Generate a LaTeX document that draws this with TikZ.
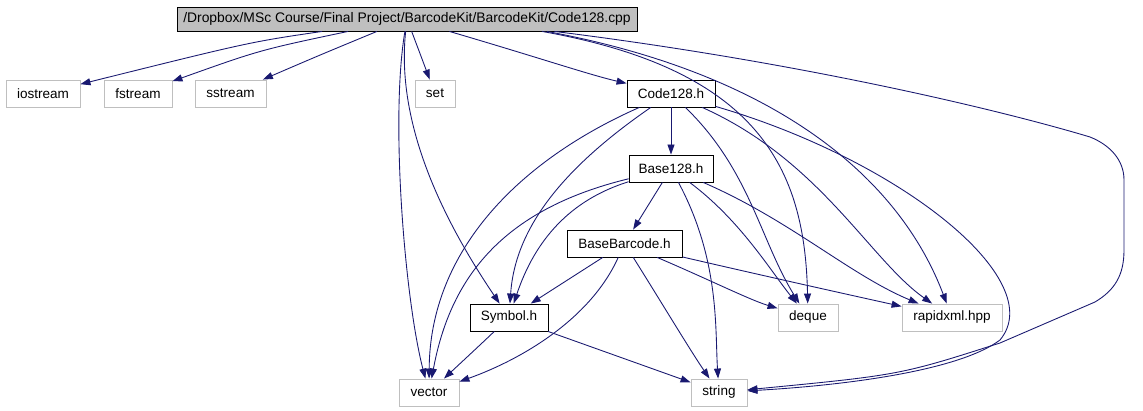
\documentclass[tikz,border=0pt]{standalone}
\usepackage{fontspec}
\setmainfont{Liberation Sans}
\usetikzlibrary{arrows.meta}
\definecolor{edgeblue}{HTML}{191970}
\definecolor{rootgray}{HTML}{BFBFBF}
\begin{document}
\begin{tikzpicture}[
    x=0.02cm, y=-0.02cm,
    every node/.style={font=\fontsize{7.7}{9}\selectfont, inner sep=0pt, minimum height=0.54cm},
    sysfile/.style={rectangle, draw=rootgray, line width=0.5pt},
    hdr/.style={rectangle, draw=black, line width=0.5pt},
    srcfile/.style={rectangle, draw=black, fill=rootgray, line width=0.5pt, minimum height=0.48cm, font=\fontsize{7.9}{9}\selectfont},
    edge/.style={-{Triangle[length=0.2cm,width=0.14cm]}, draw=edgeblue, line width=0.5pt}
]
\useasboundingbox (0,0) rectangle (1143,411);
% Source file
\node[srcfile, minimum width=9.2cm] (root) at (407,19) {/Dropbox/MSc Course/Final Project/BarcodeKit/BarcodeKit/Code128.cpp};

% First row
\node[sysfile, minimum width=1.48cm] (iostream) at (43,93.5) {iostream};
\node[sysfile, minimum width=1.36cm] (fstream) at (138,93.5) {fstream};
\node[sysfile, minimum width=1.42cm] (sstream) at (230.5,93.5) {sstream};
\node[sysfile, minimum width=0.8cm] (set) at (435,93.5) {set};
\node[hdr, minimum width=1.76cm] (code) at (671,93.5) {Code128.h};

% Middle
\node[hdr, minimum width=1.68cm] (base128) at (671,168.5) {Base128.h};
\node[hdr, minimum width=2.3cm] (basebarcode) at (624.5,243.5) {BaseBarcode.h};
\node[hdr, minimum width=1.56cm] (symbol) at (509,317.5) {Symbol.h};
\node[sysfile, minimum width=1.2cm] (deque) at (808,317.5) {deque};
\node[sysfile, minimum width=2cm] (rapidxml) at (952,317.5) {rapidxml.hpp};

% Bottom
\node[sysfile, minimum width=1.2cm] (vector) at (429,392.5) {vector};
\node[sysfile, minimum width=1.12cm] (string) at (719,392.5) {string};

% Arrows from Code128.cpp
\draw[edge] (root) .. controls (250,42) .. (iostream);
\draw[edge] (root) .. controls (260,50) .. (fstream);
\draw[edge] (root) .. controls (320,55) .. (sstream);
\draw[edge] (root) -- (set);
\draw[edge] (root) .. controls (540,58) and (590,75) .. (code);
\draw[edge] (root) .. controls (390,120) and (405,300) .. (vector);
\draw[edge] (root) .. controls (395,130) and (450,230) .. (symbol);
\draw[edge] ([xshift=2.7cm]root.south) .. controls (760,70) and (805,170) .. (deque);
\draw[edge] ([xshift=2.8cm]root.south) .. controls (780,75) and (900,180) .. (rapidxml);
\draw[edge] ([xshift=2.95cm]root.south) .. controls (800,62) and (1000,110) .. (1090,137)
    .. controls (1110,145) and (1124,160) .. (1124,180) -- (1124,250)
    .. controls (1124,275) and (1115,290) .. (1095,302) -- (1000,343)
    .. controls (900,375) .. (string);

% Arrows from Code128.h
\draw[edge] (code) -- (base128);
\draw[edge] (code) .. controls (560,170) and (515,230) .. (symbol);
\draw[edge] (code) .. controls (520,160) and (430,250) .. (vector);
\draw[edge] (code) .. controls (750,170) and (760,240) .. (deque);
\draw[edge] (code) .. controls (820,160) and (870,260) .. (rapidxml);
\draw[edge] (code) .. controls (900,160) and (1050,280) .. (1000,340)
    .. controls (960,370) and (850,385) .. (string);

% Arrows from Base128.h
\draw[edge] (base128) -- (basebarcode);
\draw[edge] (base128) .. controls (570,200) and (535,240) .. (symbol);
\draw[edge] (base128) .. controls (500,210) and (450,280) .. (vector);
\draw[edge] (base128) .. controls (740,220) and (770,270) .. (deque);
\draw[edge] (base128) .. controls (790,220) and (850,275) .. (rapidxml);
\draw[edge] (base128) .. controls (720,260) and (715,330) .. (string);

% Arrows from BaseBarcode.h
\draw[edge] (basebarcode) -- (symbol);
\draw[edge] (basebarcode) .. controls (590,320) and (520,360) .. (vector);
\draw[edge] (basebarcode) .. controls (660,300) and (690,350) .. (string);
\draw[edge] (basebarcode) .. controls (710,280) and (750,300) .. (deque);
\draw[edge] (basebarcode) .. controls (760,275) and (850,295) .. (rapidxml);

% Arrows from Symbol.h
\draw[edge] (symbol) .. controls (480,345) .. (vector);
\draw[edge] (symbol) .. controls (600,350) .. (string);
\end{tikzpicture}
\end{document}
